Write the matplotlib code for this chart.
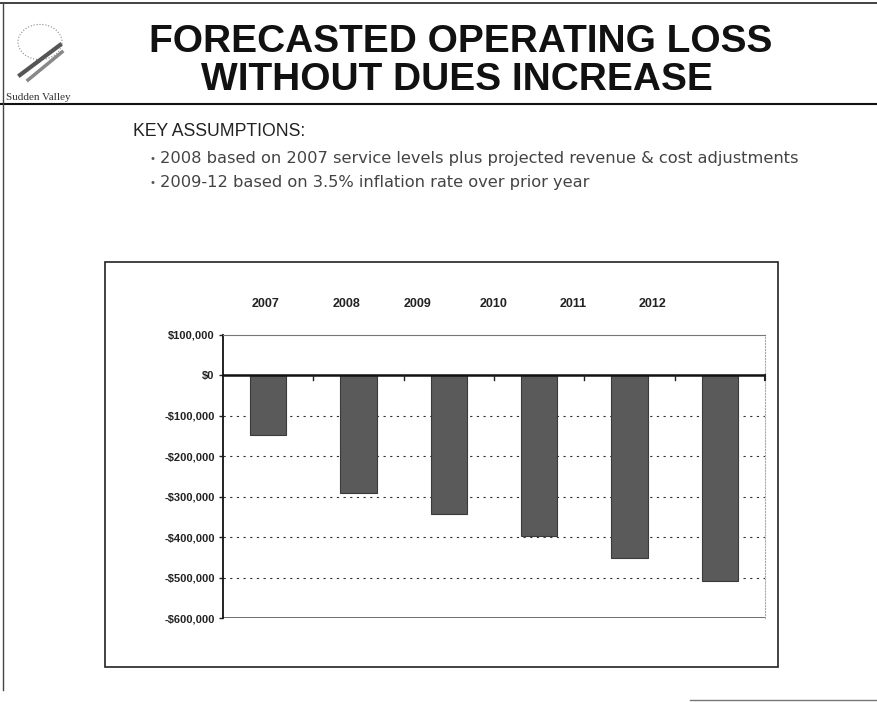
import numpy as np
import matplotlib.pyplot as plt
from matplotlib.patches import Rectangle, Circle
from matplotlib.lines import Line2D

# データ
years = ["2007", "2008", "2009", "2010", "2011", "2012"]
loss = [-148000, -291000, -343000, -397000, -452000, -509000]
yticks = [100000, 0, -100000, -200000, -300000, -400000, -500000, -600000]
ytick_labels = ["$100,000", "$0", "-$100,000", "-$200,000", "-$300,000",
                "-$400,000", "-$500,000", "-$600,000"]
# 年ラベルの位置（棒とずれている）
year_label_x = [-0.03, 0.87, 1.65, 2.49, 3.38, 4.26]

title1 = "FORECASTED OPERATING LOSS"
title2 = "WITHOUT DUES INCREASE"
assumptions = ["2008 based on 2007 service levels plus projected revenue & cost adjustments",
               "2009-12 based on 3.5% inflation rate over prior year"]

plt.rcParams['font.family'] = ['Liberation Sans', 'DejaVu Sans']

fig = plt.figure(figsize=(8.78, 7.02), dpi=100)
W, H = 878, 702

def fx(px):
    return px / W

def fy(py):
    return 1 - py / H

# ページ枠
fig.add_artist(Line2D([0, 1], [fy(3), fy(3)], color="#222", lw=1.2))
fig.add_artist(Line2D([0, 1], [fy(104), fy(104)], color="#111", lw=1.5))
fig.add_artist(Line2D([fx(3), fx(3)], [fy(3), fy(690)], color="#444", lw=1))
fig.add_artist(Line2D([fx(690), 1], [fy(700), fy(700)], color="#777", lw=1))

# ロゴ
fig.add_artist(Circle((fx(40), fy(42)), 22 / W, transform=fig.transFigure,
                      fill=False, ec="#888", lw=0.8, ls=":"))
fig.add_artist(Line2D([fx(20), fx(60)], [fy(75), fy(45)], color="#555", lw=3))
fig.add_artist(Line2D([fx(28), fx(62)], [fy(80), fy(52)], color="#888", lw=2.5))
fig.text(fx(38), fy(97), "Sudden Valley", ha="center", va="center",
         fontsize=8, family="Liberation Serif", color="#333")

# タイトル
fig.text(fx(461), fy(42), title1, ha="center", va="center",
         fontsize=28, fontweight="bold", color="#111")
fig.text(fx(457), fy(80), title2, ha="center", va="center",
         fontsize=28, fontweight="bold", color="#111")

fig.text(fx(133), fy(131), "KEY ASSUMPTIONS:", ha="left", va="center",
         fontsize=12.7, color="#222")
for i, s in enumerate(assumptions):
    yy = fy(159 + i * 24)
    fig.text(fx(151), yy, "\u2022", ha="left", va="center", fontsize=8, color="#555")
    fig.text(fx(160), yy, s, ha="left", va="center", fontsize=11.7,
             color="#444", family="DejaVu Sans")

# グラフ外枠
fig.add_artist(Rectangle((fx(105), fy(667)), (778 - 105) / W, (667 - 262) / H,
                         transform=fig.transFigure, fill=False, ec="#222", lw=1.2))

ax = fig.add_axes([fx(223), fy(618), (765 - 223) / W, (618 - 335) / H])
x = np.arange(len(years))
ax.bar(x, loss, width=0.4, color="#5a5a5a", edgecolor="#3a3a3a", lw=0.8, zorder=3)
ax.set_xlim(-0.5, len(years) - 0.5)
ax.set_ylim(-600000, 100000)
ax.set_yticks(yticks)
ax.set_yticklabels(ytick_labels, fontsize=8, fontweight="bold", color="#222")
for v in yticks[2:-1]:
    ax.axhline(v, color="#333", lw=0.8, ls=(0, (2, 4)), zorder=1)
ax.axhline(0, color="#111", lw=1.8, zorder=4)
# 0のライン上の目盛り
ax.set_xticks([])
ax.spines["bottom"].set_visible(False)
for xt in x[:-1] + 0.5:
    ax.plot([xt, xt], [0, -12000], color="#222", lw=1, zorder=5)
ax.plot([x[-1] + 0.5, x[-1] + 0.5], [0, -12000], color="#222", lw=1.5, zorder=5,
        clip_on=False)
ax.tick_params(axis="y", length=3, width=1, color="#222", pad=3)
ax.spines["left"].set_color("#111")
ax.spines["left"].set_linewidth(1.3)
ax.spines["top"].set_color("#777")
ax.spines["right"].set_color("#aaa")
ax.spines["right"].set_linestyle(":")
ax.axhline(-600000, color="#555", lw=1.2, zorder=2)

for lx, yr in zip(year_label_x, years):
    ax.text(lx, 1.11, yr, transform=ax.get_xaxis_transform(), ha="center",
            va="center", fontsize=9, fontweight="bold", color="#222")

fig.savefig("out.png", dpi=100)
